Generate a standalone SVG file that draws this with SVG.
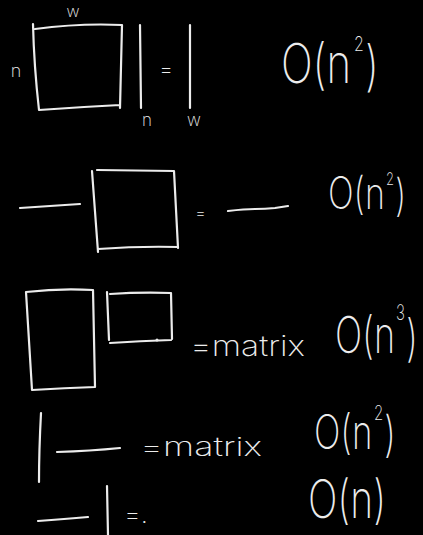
<svg xmlns="http://www.w3.org/2000/svg" width="423" height="535" viewBox="0 0 423 535">
<style>
.s{fill:none;stroke:#ececec;stroke-width:2.2;stroke-linecap:round;stroke-linejoin:round}
.o{fill:#ececec;font-family:"Inter","Roboto","Liberation Sans",sans-serif;font-weight:200}
</style>
<rect width="423" height="535" fill="#000"/>
<g id="row1">
<path class="s" d="M33 24 Q34 66 39 110 M35 29 Q80 23 122 25 M122 25 Q121 66 120 108 M39 110 Q80 107 120 105"/>
<path class="s" d="M140 25 L141 108 M190 25 L190 108"/>
<text class="o" x="73" y="17" font-size="16" text-anchor="middle">w</text>
<text class="o" x="16" y="77" font-size="18" text-anchor="middle">n</text>
<text class="o" x="147" y="126" font-size="17" text-anchor="middle">n</text>
<text class="o" x="194" y="126" font-size="17" text-anchor="middle">w</text>
<text class="o" x="159" y="77" font-size="22">=</text>
<g transform="translate(281,83) scale(1,1.3)">
<text class="o" x="0" y="0" font-size="42">O(n</text>
<text class="o" x="73" y="-25" font-size="16">2</text>
<text class="o" x="84" y="1.5" font-size="42">)</text>
</g>
</g>
<g id="row2">
<path class="s" d="M20 208 Q50 206 80 204"/>
<path class="s" d="M92 171 Q95 210 98 252 M97 170 L174 171 Q176 210 178 248 M98 249 Q140 246 178 247"/>
<text class="o" x="195" y="219" font-size="17">=</text>
<path class="s" d="M228 211 Q245 209 255 209 T275 208 L288 206"/>
<g transform="translate(328,209) scale(1,1.3)">
<text class="o" x="0" y="0" font-size="34">O(n</text>
<text class="o" x="58" y="-18.5" font-size="13">2</text>
<text class="o" x="67" y="1.5" font-size="34">)</text>
</g>
</g>
<g id="row3">
<path class="s" d="M26 292 Q60 288 93 290 Q94 340 95 387 M26 292 Q29 340 32 390 Q65 388 95 387"/>
<path class="s" d="M107 292 L109 340 M110 294 Q140 292 171 293 L172 339 M110 343 Q140 341 171 340"/>
<circle cx="157" cy="340" r="1.5" fill="#ececec"/>
<text class="o" x="190" y="356" font-size="28" textLength="115" lengthAdjust="spacingAndGlyphs">=matrix</text>
<g transform="translate(335,353) scale(1,1.4)">
<text class="o" x="0" y="0" font-size="36">O(n</text>
<text class="o" x="61" y="-23.6" font-size="15">3</text>
<text class="o" x="71" y="2" font-size="36">)</text>
</g>
</g>
<g id="row4">
<path class="s" d="M41 413 Q39 450 39 482"/>
<path class="s" d="M57 452 Q90 451 120 448"/>
<text class="o" x="140" y="456" font-size="26" textLength="122" lengthAdjust="spacingAndGlyphs">=matrix</text>
<g transform="translate(314,449) scale(1,1.35)">
<text class="o" x="0" y="0" font-size="35">O(n</text>
<text class="o" x="60" y="-21.5" font-size="15">2</text>
<text class="o" x="70" y="1.5" font-size="36">)</text>
</g>
</g>
<g id="row5">
<path class="s" d="M38 521 Q65 519 88 517"/>
<path class="s" d="M107 486 L108 535"/>
<text class="o" x="124" y="523" font-size="26">=.</text>
<g transform="translate(308,518) scale(1,1.35)">
<text class="o" x="0" y="0" font-size="39">O(n)</text>
</g>
</g>
</svg>
